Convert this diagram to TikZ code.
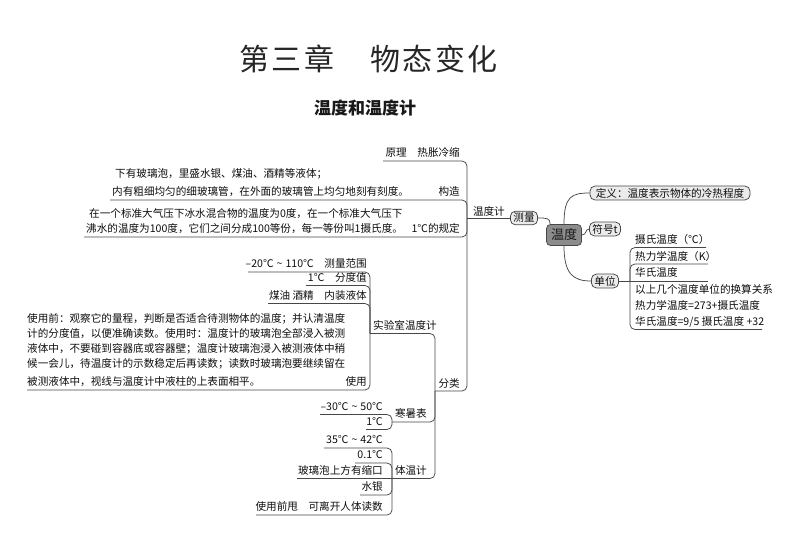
\documentclass[tikz,border=0pt]{standalone}
\usepackage{fontspec}
\setmainfont{Noto Sans CJK SC}
\newcommand{\bodyfs}{\fontsize{10.6}{12}\selectfont}
\newcommand{\tld}{\hspace{3pt}\textasciitilde\hspace{3pt}}
\begin{document}
\begin{tikzpicture}[x=1pt,y=-1pt,
  ln/.style={draw=black!72, line width=0.75pt, rounded corners=5pt},
  lbl/.style={inner sep=0pt, font=\bodyfs, text=black!95},
  lblr/.style={lbl, anchor=base east},
  lbll/.style={lbl, anchor=base west},
  pill/.style={draw=black!72, line width=0.75pt, rounded corners=5pt, fill=black!8, font=\bodyfs, text=black!95, inner xsep=3pt, inner ysep=2pt},
  hub/.style={draw=black!72, line width=0.75pt, fill=black!45, rounded corners=4pt, font=\fontsize{13}{14}\selectfont, text=black!90, minimum width=35pt, minimum height=21pt, inner sep=1pt},
  ttl/.style={font=\fontsize{30}{32}\selectfont, text=black!85, inner sep=0pt}]
\useasboundingbox (0,0) rectangle (800,554);

% titles
\node[ttl] (title1) at (287,59) {第\hspace{2.5pt}三\hspace{2.5pt}章};
\node[ttl] (title2) at (434,59) {物\hspace{2.5pt}态\hspace{2.5pt}变\hspace{2.5pt}化};
\node[font=\fontsize{17}{20}\selectfont\bfseries, text=black!90, inner sep=0pt] (sub) at (365,108) {温度和温度计};

% junctions
\coordinate (J1) at (467,218);
\coordinate (J2) at (435,391);
\coordinate (J3) at (370,333.5);
\coordinate (J4) at (392,422);
\coordinate (J5) at (392,478.5);
\coordinate (J6) at (630,281);

% centre
\node[pill] (cl) at (524,218) {测量};
\node[hub] (wd) at (564,235) {温度};
\node[pill, minimum width=160pt] (dy) at (670,193) {定义：温度表示物体的冷热程度};
\node[pill] (fh) at (605,229) {符号t};
\node[pill] (dw) at (605,281) {单位};
\node[lblr] (wdj) at (505,215) {温度计};
\draw[ln] (J1) -- (cl.west);
\draw[ln] (cl.east) .. controls +(9,0) and +(0,-6) .. ([xshift=4pt]wd.north west);
\draw[ln] (wd.north) .. controls +(0,-28) and +(-18,0) .. (dy.west);
\draw[ln] (wd.east) .. controls +(5,0) and +(-4,0) .. (fh.west);
\draw[ln] (wd.south) .. controls +(0,28) and +(-18,0) .. (dw.west);

% unit branch
\draw[ln] (dw.east) -- (J6);
\node[lbll] (u1) at (635,243) {摄氏温度（℃）};
\coordinate (u1e) at (706,247.5);
\draw[ln] (J6) -- (J6 |- u1e) -- (u1e);
\node[lbll] (u2) at (635,260) {热力学温度（K）};
\coordinate (u2e) at (708,264);
\draw[ln] (J6) -- (J6 |- u2e) -- (u2e);
\node[lbll] (u3) at (635,276.5) {华氏温度};
\coordinate (u3e) at (708,281);
\draw[ln] (J6) -- (u3e);
\node[lbll] (u4a) at (635,293) {以上几个温度单位的换算关系};
\node[lbll] (u4b) at (635,309.5) {热力学温度=273+摄氏温度};
\node[lbll] (u4c) at (635,325) {华氏温度=9/5 摄氏温度 +32};
\coordinate (u4e) at (762,329.5);
\draw[ln] (J6) -- (J6 |- u4e) -- (u4e);

% thermometer branch
\node[lblr] (yl) at (460,156.5) {原理　热胀冷缩};
\coordinate (yls) at (383,161);
\draw[ln] (yls) -- (yls -| J1) -- (J1);

\node[lbll] (gz1) at (115,177) {下有玻璃泡，里盛水银、煤油、酒精等液体；};
\node[lbll] (gz2) at (112,195.5) {内有粗细均匀的细玻璃管，在外面的玻璃管上均匀地刻有刻度。};
\node[lblr] (gz) at (460,195.5) {构造};
\coordinate (gzs) at (110,200);
\draw[ln] (gzs) -- (gzs -| J1) -- (J1);

\node[lbll] (gd1) at (89,217) {在一个标准大气压下冰水混合物的温度为0度，在一个标准大气压下};
\node[lbll] (gd2) at (86,232.5) {沸水的温度为100度，它们之间分成100等份，每一等份叫1摄氏度。};
\node[lblr] (gd) at (460,232.5) {1℃的规定};
\coordinate (gds) at (84,237);
\draw[ln] (gds) -- (gds -| J1) -- (J1);

\node[lblr] (fl) at (460,387) {分类};
\draw[ln] (J2) -- (J2 -| J1) -- (J1);

\node[lblr] (sy) at (437,329) {实验室温度计};
\draw[ln] (J3) -- (J3 -| J2) -- (J2);
\node[lblr] (hs) at (427,417.5) {寒暑表};
\draw[ln] (J4) -- (J4 -| J2) -- (J2);
\node[lblr] (tw) at (427,474) {体温计};
\draw[ln] (J5) -- (J5 -| J2) -- (J2);

% laboratory thermometer
\node[lblr] (r1) at (367,267.5) {–20℃\tld 110℃　测量范围};
\coordinate (r1s) at (248,272);
\draw[ln] (r1s) -- (r1s -| J3) -- (J3);
\node[lblr] (f1) at (367,281) {1℃　分度值};
\coordinate (f1s) at (306,285.5);
\draw[ln] (f1s) -- (f1s -| J3) -- (J3);
\node[lblr] (y1) at (367,299) {煤油 酒精　内装液体};
\coordinate (y1s) at (268,303.5);
\draw[ln] (y1s) -- (y1s -| J3) -- (J3);
\node[lbll] (sp1) at (27,322) {使用前：观察它的量程，判断是否适合待测物体的温度；并认清温度};
\node[lbll] (sp2) at (27,337) {计的分度值，以便准确读数。使用时：温度计的玻璃泡全部浸入被测};
\node[lbll] (sp3) at (27,352) {液体中，不要碰到容器底或容器壁；温度计玻璃泡浸入被测液体中稍};
\node[lbll] (sp4) at (27,367) {候一会儿，待温度计的示数稳定后再读数；读数时玻璃泡要继续留在};
\node[lbll] (sp5) at (27,385.5) {被测液体中，视线与温度计中液柱的上表面相平。};
\node[lblr] (sy1) at (367,385.5) {使用};
\coordinate (sps) at (27,390);
\draw[ln] (sps) -- (sps -| J3) -- (J3);

% household thermometer
\node[lblr] (r2) at (383,410) {–30℃\tld 50℃};
\coordinate (r2s) at (320,414.5);
\draw[ln] (r2s) -- (r2s -| J4) -- (J4);
\node[lblr] (f2) at (383,425) {1℃};
\coordinate (f2s) at (366,429.5);
\draw[ln] (f2s) -- (f2s -| J4) -- (J4);

% clinical thermometer
\node[lblr] (r3) at (383,443.5) {35℃\tld 42℃};
\coordinate (r3s) at (324,448);
\draw[ln] (r3s) -- (r3s -| J5) -- (J5);
\node[lblr] (f3) at (383,458.5) {0.1℃};
\coordinate (f3s) at (355,463);
\draw[ln] (f3s) -- (f3s -| J5) -- (J5);
\node[lblr] (sk) at (383,474) {玻璃泡上方有缩口};
\coordinate (sks) at (297,478.5);
\draw[ln] (sks) -- (J5);
\node[lblr] (sv) at (383,490.5) {水银};
\coordinate (svs) at (360,495);
\draw[ln] (svs) -- (svs -| J5) -- (J5);
\node[lblr] (sq) at (383,510.5) {使用前甩　可离开人体读数};
\coordinate (sqs) at (256,515);
\draw[ln] (sqs) -- (sqs -| J5) -- (J5);
\end{tikzpicture}
\end{document}
